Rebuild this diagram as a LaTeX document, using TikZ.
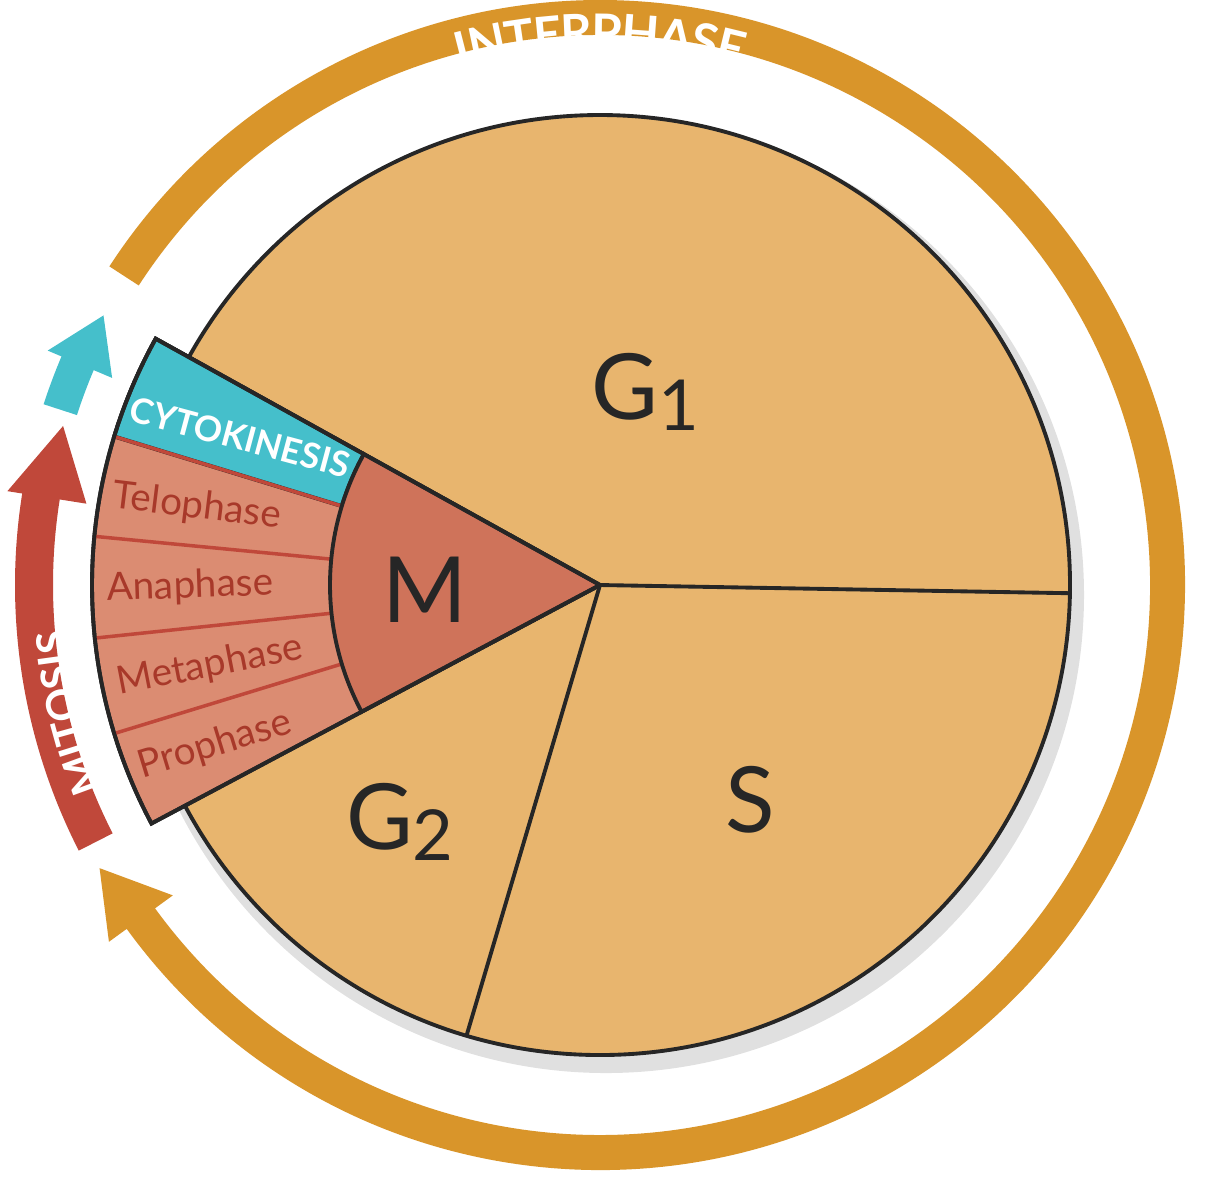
\documentclass[tikz,border=0pt]{standalone}
\usepackage{fontspec}
\setmainfont{Lato}
\usetikzlibrary{decorations.text,calc}
\definecolor{pie}{HTML}{E8B56E}
\definecolor{band}{HTML}{D9952A}
\definecolor{mcol}{HTML}{CF735A}
\definecolor{phase}{HTML}{DB8C72}
\definecolor{ptext}{HTML}{A8392A}
\definecolor{cyan}{HTML}{45BFCB}
\definecolor{red}{HTML}{C0483A}
\tikzset{
  edge/.style={draw=black!85, line width=1.1pt},
  plabel/.style={text=ptext, font=\fontsize{11}{11}\selectfont},
  big/.style={font=\fontsize{26}{26}\selectfont, text=black!85}
}
\begin{document}
\begin{tikzpicture}
\useasboundingbox (0,0) rectangle (12.13,-12.00);
\coordinate (c) at (6,-5.85);
% shadow
\fill[black, opacity=0.12] ([shift={(0.06,-0.1)}]c) circle (4.78);
% interphase arrow
\fill[band] ($(c)+(147:5.5)$) arc(147:-144:5.5) -- ($(c)+(-144:5.28)$) -- ($(c)+(-150.5:5.75)$) -- ($(c)+(-144:6.07)$) -- ($(c)+(-144:5.85)$) arc(-144:147:5.85) -- cycle;
% mitosis arrow
\fill[red] ($(c)+(207:5.47)$) arc(207:171:5.47) -- ($(c)+(171:5.2)$) -- ($(c)+(163.5:5.6)$) -- ($(c)+(171:6.0)$) -- ($(c)+(171:5.85)$) arc(171:207:5.85) -- cycle;
% cytokinesis arrow
\fill[cyan] ($(c)+(162:5.5)$) arc(162:157:5.5) -- ($(c)+(157:5.3)$) -- ($(c)+(151.5:5.65)$) -- ($(c)+(157:6.0)$) -- ($(c)+(157:5.85)$) arc(157:162:5.85) -- cycle;
% pie
\filldraw[fill=pie, edge] (c) circle (4.7);
\draw[edge] (c) -- ++(-1:4.7) coordinate (e1);
\draw[edge] (c) -- ++(-106.5:4.7) coordinate (e2);
% M wedge
\filldraw[fill=phase, edge] (c) -- ++(151:5.08) arc(151:208:5.08) -- cycle;
\filldraw[fill=cyan, edge] ($(c)+(151:2.7)$) -- ($(c)+(151:5.08)$) arc(151:163:5.08) -- ($(c)+(163:2.7)$) arc(163:151:2.7);
\foreach \a in {163,174.5,186,197} \draw[red, line width=1pt] ($(c)+(\a:2.7)$) -- ($(c)+(\a:5.08)$);
\filldraw[fill=mcol, edge] (c) -- ++(151:2.7) arc(151:208:2.7) -- cycle;
\draw[edge] (c) -- ++(151:5.08) arc(151:208:5.08) -- cycle;
% labels
\node[big] (g1) at (6.45,-3.92) {G\raisebox{-0.12em}{\fontsize{20}{20}\selectfont 1}};
\node[big] (s) at (7.5,-8.0) {S};
\node[big] (g2) at (4.0,-8.22) {G\raisebox{-0.12em}{\fontsize{20}{20}\selectfont 2}};
\node[big] (m) at (4.25,-5.9) {M};
\node[plabel, rotate=-7] (telo) at (1.97,-5.07) {Telophase};
\node[plabel, rotate=2] (ana) at (1.9,-5.87) {Anaphase};
\node[plabel, rotate=11] (meta) at (2.1,-6.66) {Metaphase};
\node[plabel, rotate=17] (pro) at (2.15,-7.45) {Prophase};
\node[text=white, font=\bfseries\fontsize{10}{10}\selectfont, rotate=-15] (cyto) at (2.4,-4.37) {CYTOKINESIS};
\path[decorate, decoration={text along path, text align=center, raise=-9pt,
  text={|\color{white}\bfseries\fontsize{14}{14}\selectfont|INTERPHASE}}] ($(c)+(108:5.67)$) arc(108:72:5.67);
\path[decorate, decoration={text along path, text align=center, raise=-8.5pt,
  text={|\color{white}\bfseries\fontsize{12}{12}\selectfont|MITOSIS}}] ($(c)+(207:5.66)$) arc(207:180:5.66);
\end{tikzpicture}
\end{document}
